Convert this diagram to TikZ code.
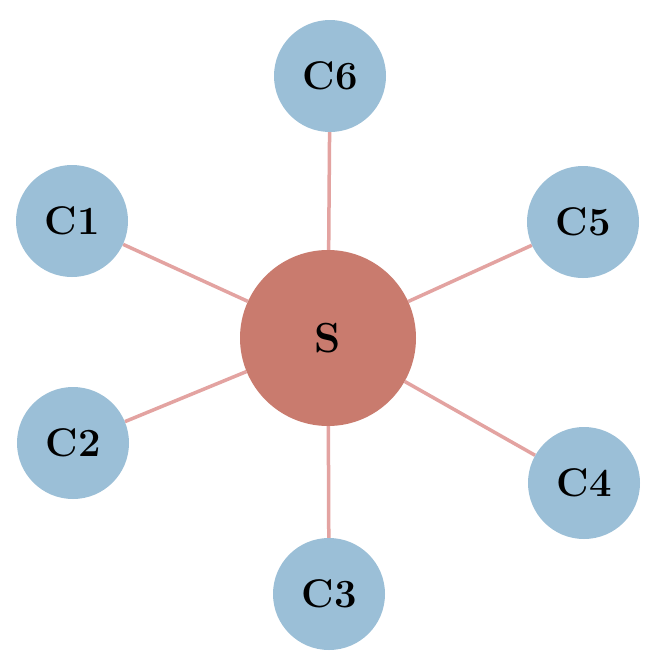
\documentclass[tikz,border=0pt]{standalone}
\usepackage{fontspec}
\usetikzlibrary{backgrounds}
\begin{document}
\begin{tikzpicture}[x=1pt,y=-1pt,
  client/.style={circle,fill=cblue,minimum size=112pt,inner sep=0pt,font=\fontsize{40}{42}\selectfont\bfseries},
  server/.style={circle,fill=sred,minimum size=176pt,inner sep=0pt,font=\fontsize{42}{44}\selectfont\bfseries},
  link/.style={draw=lpink,line width=3.5pt}]
\definecolor{cblue}{HTML}{9BBFD7}
\definecolor{sred}{HTML}{C97B6E}
\definecolor{lpink}{HTML}{E3A3A1}
\useasboundingbox (0,0) rectangle (654,672);
\node[server] (S) at (328,338) {S};
\node[client] (C6) at (330,76) {C6};
\node[client] (C1) at (72,221) {C1};
\node[client] (C2) at (73,443) {C2};
\node[client] (C3) at (329,594) {C3};
\node[client] (C4) at (584,483) {C4};
\node[client] (C5) at (583,222) {C5};
\begin{scope}[on background layer]
\fill[white] (0,0) rectangle (654,672);
\foreach \c in {C1,C2,C3,C4,C5,C6}{\draw[link] (S) -- (\c);}
\end{scope}
\end{tikzpicture}
\end{document}
